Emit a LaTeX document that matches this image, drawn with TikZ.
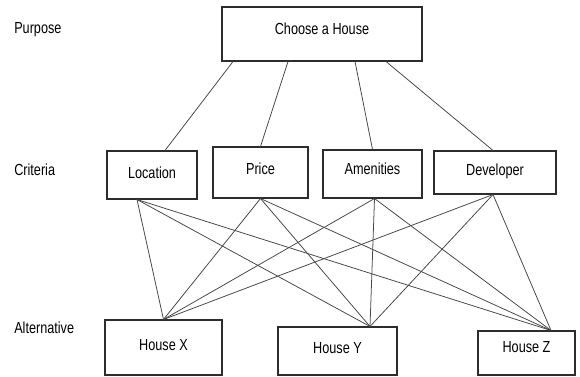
\documentclass[tikz,border=0pt]{standalone}
\usepackage{fontspec}
\setmainfont[FakeStretch=0.79]{Liberation Sans}
\usepackage{tikz}

\definecolor{edgegray}{RGB}{70,70,70}
\definecolor{boxgray}{RGB}{45,45,45}

\begin{document}
\begin{tikzpicture}[font=\fontsize{11.4}{13}\selectfont,
	box/.style={draw=boxgray, line width=0.75pt, rectangle, inner sep=0pt, text height=8pt, text depth=5pt},
	link/.style={draw=edgegray, line width=0.55pt},
	level/.style={anchor=base west, inner sep=0pt}]

	\useasboundingbox (0,0) rectangle (14.5,9.4);

	% label
	\node[level] (purpose) at (0.35,8.575){Purpose};
	\node[level] (criteria) at (0.35,5.025){Criteria};
	\node[level] (alternative) at (0.35,1.075){Alternative};

	% goal
	\node[box, minimum width=5.0cm, minimum height=1.35cm, text depth=7pt] (house) at (8.05,8.55){Choose a House};

	% criteria
	\node[box, minimum width=2.25cm, minimum height=1.2cm, text depth=3pt] (location) at (3.8,5.025){Location};
	\node[box, minimum width=2.375cm, minimum height=1.275cm] (price) at (6.5125,5.0875){Price};
	\node[box, minimum width=2.475cm, minimum height=1.2cm, text depth=7pt] (amenities) at (9.3125,5.05){Amenities};
	\node[box, minimum width=3.05cm, minimum height=1.075cm, text depth=4pt] (developer) at (12.375,5.0875){Developer};

	% alternatives
	\node[box, minimum width=2.925cm, minimum height=1.375cm, text depth=3.5pt] (houseX) at (4.0875,0.7125){House X};
	\node[box, minimum width=2.975cm, minimum height=1.2cm, text depth=4pt] (houseY) at (8.4375,0.625){House Y};
	\node[box, minimum width=2.425cm, minimum height=1.1cm, text depth=8.5pt] (houseZ) at (13.1625,0.575){House Z};

	% goal -- criteria
	\draw[link] ([xshift=-2.225cm]house.south) -- ([xshift=0.325cm]location.north);
	\draw[link] ([xshift=-0.85cm]house.south) -- (price.north);
	\draw[link] ([xshift=0.825cm]house.south) -- (amenities.north);
	\draw[link] ([xshift=1.6cm]house.south) -- ([xshift=-0.05cm]developer.north);

	% criteria -- alternatives
	\foreach \crit/\dx in {location/-0.375, price/0, amenities/0.05, developer/-0.05}{
		\draw[link] ([xshift=\dx cm]\crit.south) -- (houseX.north);
		\draw[link] ([xshift=\dx cm]\crit.south) -- ([xshift=0.8125cm]houseY.north);
		\draw[link] ([xshift=\dx cm]\crit.south) -- ([xshift=0.6125cm]houseZ.north);
	}
\end{tikzpicture}
\end{document}
